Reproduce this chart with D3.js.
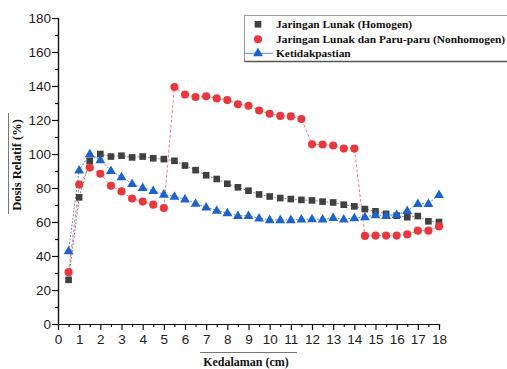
<!DOCTYPE html>
<html>
<head>
<meta charset="utf-8">
<script src="https://cdn.jsdelivr.net/npm/d3@7"></script>
<style>
  html, body { margin: 0; padding: 0; background: #fff; }
  svg { display: block; }
</style>
</head>
<body>
<script>
// Depth (cm)
const depths = d3.range(0.5, 18.01, 0.5);

// Relative dose (%) per depth
const homogen = [26, 74.5, 96, 100, 98.5, 99, 98, 98.5, 97.5, 97, 96, 93.2,
  90.5, 87.5, 85.3, 82.5, 80.4, 78.4, 76.2, 75, 74.1, 73.5, 73, 72.7,
  72, 71.5, 70.2, 69.2, 67.6, 66.3, 64.8, 63.7, 62.8, 63.5, 60.4, 60];

const nonhomogen = [30.5, 82, 92, 88.4, 81.3, 78, 73.8, 72, 70.2, 68.2, 139.4, 135,
  133.5, 133.9, 132.7, 131.7, 129.2, 128.4, 125.6, 123.7, 122.4, 122.1, 120.6, 105.7,
  105.6, 105, 103.2, 103.2, 51.8, 52, 52, 52, 52.7, 54.9, 54.9, 57.4];

const uncertainty = [43, 90.5, 100, 96.5, 90.2, 86.5, 82.5, 80.2, 78.4, 76.3, 75, 73.5,
  70.9, 68.7, 66.8, 65.3, 63.7, 63.7, 62.2, 61.3, 61.3, 61.3, 61.7, 61.8,
  61.6, 62.5, 61.6, 62.4, 63, 64.2, 63.8, 64.3, 66.6, 70.8, 70.8, 76.1];

const xTicks = d3.range(0, 19, 1);
const yTicks = d3.range(0, 181, 20);

const seriesNames = [
  "Jaringan Lunak (Homogen)",
  "Jaringan Lunak dan Paru-paru (Nonhomogen)",
  "Ketidakpastian"
];

const W = 507, H = 369;
const svg = d3.select("body").append("svg").attr("width", W).attr("height", H);

const x = d3.scaleLinear().domain([0, 18]).range([58, 439]);
const y = d3.scaleLinear().domain([0, 180]).range([324, 18]);

const sans = "'Liberation Sans', Arial, sans-serif";
const serif = "'Liberation Serif', 'Times New Roman', serif";

// Axes: minor ticks first, then labelled major ticks
const xMinor = svg.append("g").attr("transform", `translate(0,${y(0)})`)
  .call(d3.axisBottom(x).tickValues(d3.range(0.5, 18, 1)).tickSize(3).tickFormat(""));
const yMinor = svg.append("g").attr("transform", `translate(${x(0)},0)`)
  .call(d3.axisLeft(y).tickValues(d3.range(10, 180, 20)).tickSize(3).tickFormat(""));
const xAxis = svg.append("g").attr("transform", `translate(0,${y(0)})`)
  .call(d3.axisBottom(x).tickValues(xTicks).tickSize(6).tickPadding(4).tickSizeOuter(0));
const yAxis = svg.append("g").attr("transform", `translate(${x(0)},0)`)
  .call(d3.axisLeft(y).tickValues(yTicks).tickSize(6).tickPadding(1).tickSizeOuter(0));

[xMinor, yMinor, xAxis, yAxis].forEach(g => {
  g.selectAll("path, line").attr("stroke", "#111").attr("stroke-width", 1.2);
  g.selectAll("text").attr("font-family", sans).attr("font-size", 13.5).attr("fill", "#222");
});

// Axis titles with rule lines
svg.append("line").attr("x1", 200).attr("x2", 297).attr("y1", 352.5).attr("y2", 352.5)
  .attr("stroke", "#777").attr("stroke-width", 1);
svg.append("text").attr("x", 246).attr("y", 366).attr("text-anchor", "middle")
  .attr("font-family", serif).attr("font-weight", "bold").attr("font-size", 12)
  .attr("fill", "#111").text("Kedalaman (cm)");

svg.append("line").attr("x1", 8.5).attr("x2", 8.5).attr("y1", 113).attr("y2", 214)
  .attr("stroke", "#777").attr("stroke-width", 1);
svg.append("text").attr("transform", "translate(21,165) rotate(-90)").attr("text-anchor", "middle")
  .attr("font-family", serif).attr("font-weight", "bold").attr("font-size", 12.5)
  .attr("fill", "#111").text("Dosis Relatif (%)");

const colors = ["#404040", "#e8383e", "#1e63cc"];
const lineColors = ["#777", "#e0707a", "#4c7fd0"];

const line = d3.line().x((d, i) => x(depths[i])).y(d => y(d));
const data = [homogen, nonhomogen, uncertainty];

data.forEach((vals, k) => {
  svg.append("path").datum(vals).attr("d", line).attr("fill", "none")
    .attr("stroke", lineColors[k]).attr("stroke-width", 0.9)
    .attr("stroke-dasharray", k === 1 ? "3,2" : "2,1.5");
});

const symbols = [
  d3.symbol().type(d3.symbolSquare).size(44),
  d3.symbol().type(d3.symbolCircle).size(52),
  d3.symbol().type(d3.symbolTriangle).size(42)
];

data.forEach((vals, k) => {
  svg.append("g").selectAll("path").data(vals).join("path")
    .attr("transform", (d, i) => `translate(${x(depths[i])},${y(d) + (k === 2 ? 0.5 : 0)})`)
    .attr("d", symbols[k]()).attr("fill", colors[k]);
});

// Legend
const lg = svg.append("g");
lg.append("rect").attr("x", 244.5).attr("y", 15.5).attr("width", 280).attr("height", 46)
  .attr("fill", "#fff").attr("stroke", "#999").attr("stroke-width", 1);
lg.append("line").attr("x1", 244.5).attr("x2", 507).attr("y1", 61.5).attr("y2", 61.5)
  .attr("stroke", "#555").attr("stroke-width", 1.5);
const rowY = [24.3, 39.3, 53.3];
lg.append("line").attr("x1", 244).attr("x2", 273).attr("y1", rowY[2]).attr("y2", rowY[2])
  .attr("stroke", lineColors[2]).attr("stroke-width", 0.9);
seriesNames.forEach((name, k) => {
  lg.append("path").attr("transform", `translate(258,${rowY[k]})`)
    .attr("d", symbols[k]()).attr("fill", colors[k]);
  lg.append("text").attr("x", 276).attr("y", rowY[k] + 4)
    .attr("font-family", serif).attr("font-weight", "bold").attr("font-size", 11.4)
    .attr("fill", "#111").text(name);
});
</script>
</body>
</html>
